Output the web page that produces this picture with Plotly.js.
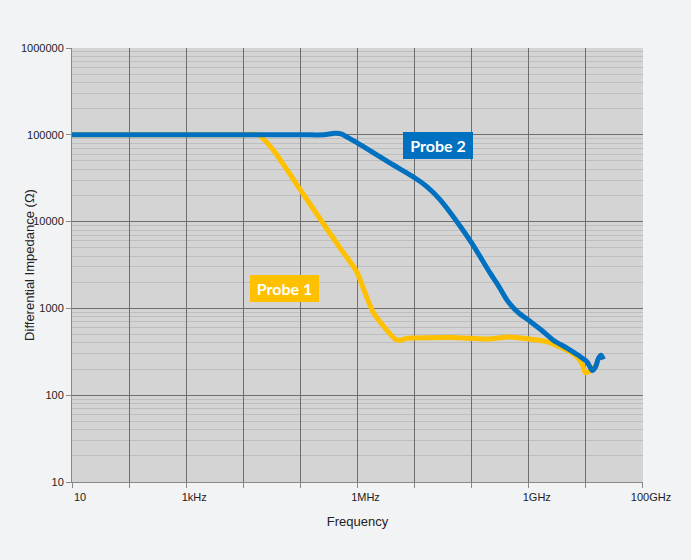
<!DOCTYPE html>
<html>
<head>
<meta charset="utf-8">
<script src="https://cdn.plot.ly/plotly-3.0.1.min.js"></script>
<style>
  html, body { margin: 0; padding: 0; background: #f2f3f5; }
  #chart { width: 691px; height: 560px; }
</style>
</head>
<body>
<div id="chart"></div>
<script>
// Differential impedance of two probes versus frequency (log-log)

// Probe 1 (yellow)
const probe1Freq = [10, 1e3, 1e4, 1.82e4, 3.33e4, 1e5, 2.38e5, 4.97e5, 9.77e5, 1.26e6, 1.88e6, 3.27e6,
  4.58e6, 5.6e6, 7.43e6, 1.11e7, 4.75e7, 1.87e8, 4.74e8, 1.06e9, 1.95e9, 3.04e9, 4.73e9,
  7.38e9, 8.67e9, 9.78e9, 1.15e10, 1.35e10, 1.6e10];
const probe1Imp = [1e5, 1e5, 1e5, 1e5, 67100, 23200, 10000, 4950, 2630, 1710, 904, 560,
  441, 429, 453, 457, 461, 444, 469, 441, 417, 375, 328,
  266, 225, 182, 187, 203, 235];

// Probe 2 (blue)
const probe2Freq = [10, 1e3, 1e5, 2.6e5, 4.0e5, 5.3e5, 7.0e5, 9.9e5, 2.04e6, 3.74e6, 1.03e7, 1.64e7,
  2.81e7, 5.52e7, 1.01e8, 2.12e8, 3.0e8, 4.15e8, 5.5e8, 7.1e8, 1.06e9, 1.59e9, 2.69e9, 4.73e9,
  7.38e9, 1.06e10, 1.28e10, 1.47e10, 1.66e10, 1.85e10, 2.02e10];
const probe2Imp = [1e5, 1e5, 1e5, 1e5, 1.04e5, 1.02e5, 92000, 80900, 60400, 47100, 31600, 25300,
  17800, 9980, 5620, 2530, 1780, 1245, 1000, 857, 708, 575, 430, 347,
  288, 241, 193, 211, 266, 288, 259];

// Axis ticks
const xTickVals = [1e1, 1e2, 1e3, 1e4, 1e5, 1e6, 1e7, 1e8, 1e9, 1e10, 1e11];
const xTickText = ['10', '', '1kHz', '', '', '1MHz', '', '', '1GHz', '', '100GHz'];
const yTickVals = [10, 100, 1000, 10000, 100000, 1000000];
const yTickText = ['10', '100', '1000', '10000', '100000', '1000000'];

const blue = '#0070c0';
const yellow = '#ffc000';

// minor horizontal grid lines: 2..9 within every decade
const yMinor = [];
for (let d = 1; d < 6; d++) {
  for (let m = 2; m <= 9; m++) yMinor.push(m * Math.pow(10, d));
}

const traces = [
  {
    x: probe1Freq, y: probe1Imp, type: 'scatter', mode: 'lines', name: 'Probe 1',
    line: { color: yellow, width: 5, shape: 'spline', smoothing: 0.6 }
  },
  {
    x: probe2Freq, y: probe2Imp, type: 'scatter', mode: 'lines', name: 'Probe 2',
    line: { color: blue, width: 5, shape: 'spline', smoothing: 0.7 }
  }
];

const baseFont = 'Liberation Sans, Arial, sans-serif';
const tickFont = { family: baseFont, size: 11, color: '#222' };

const layout = {
  width: 691, height: 560,
  paper_bgcolor: '#f2f3f5',
  plot_bgcolor: '#d4d4d4',
  margin: { l: 72, r: 48, t: 48, b: 78 },
  showlegend: false,
  xaxis: {
    type: 'log', range: [1, 11.0001],
    tickmode: 'array', tickvals: xTickVals, ticktext: xTickText,
    ticks: 'outside', ticklen: 5, tickcolor: '#888', ticklabelshift: 8,
    showgrid: true, gridcolor: '#6e6e6e', gridwidth: 1,
    showline: true, linecolor: '#888', linewidth: 1,
    zeroline: false, tickfont: tickFont,
    title: { text: 'Frequency', font: { family: baseFont, size: 13, color: '#222' }, standoff: 14 }
  },
  yaxis: {
    type: 'log', range: [1, 6],
    tickmode: 'array', tickvals: yTickVals, ticktext: yTickText,
    ticks: 'outside', ticklen: 5, tickcolor: '#888',
    showgrid: true, gridcolor: '#6e6e6e', gridwidth: 1,
    minor: { tickvals: yMinor, showgrid: true, gridcolor: '#bebebe', gridwidth: 1, ticks: '' },
    showline: true, linecolor: '#888', linewidth: 1,
    zeroline: false, tickfont: tickFont
  },
  annotations: [
    {
      // vertical axis title, placed close to the tick labels
      x: -0.0755, y: 0.5, xref: 'paper', yref: 'paper', xanchor: 'center', yanchor: 'middle',
      showarrow: false, textangle: -90,
      text: 'Differential Impedance (Ω)', font: { family: baseFont, size: 13, color: '#222' }
    },
    {
      x: 7.414, y: 4.879, xref: 'x', yref: 'y', showarrow: false,
      text: '<b>Probe 2</b>', font: { family: 'Lato, sans-serif', size: 16, color: '#ffffff' },
      bgcolor: blue, width: 70, height: 27, borderpad: 0, borderwidth: 0
    },
    {
      x: 4.728, y: 3.233, xref: 'x', yref: 'y', showarrow: false,
      text: '<b>Probe 1</b>', font: { family: 'Lato, sans-serif', size: 16, color: '#ffffff' },
      bgcolor: yellow, width: 69, height: 27, borderpad: 0, borderwidth: 0
    }
  ]
};

Plotly.newPlot('chart', traces, layout, { staticPlot: true, displayModeBar: false });
</script>
</body>
</html>
